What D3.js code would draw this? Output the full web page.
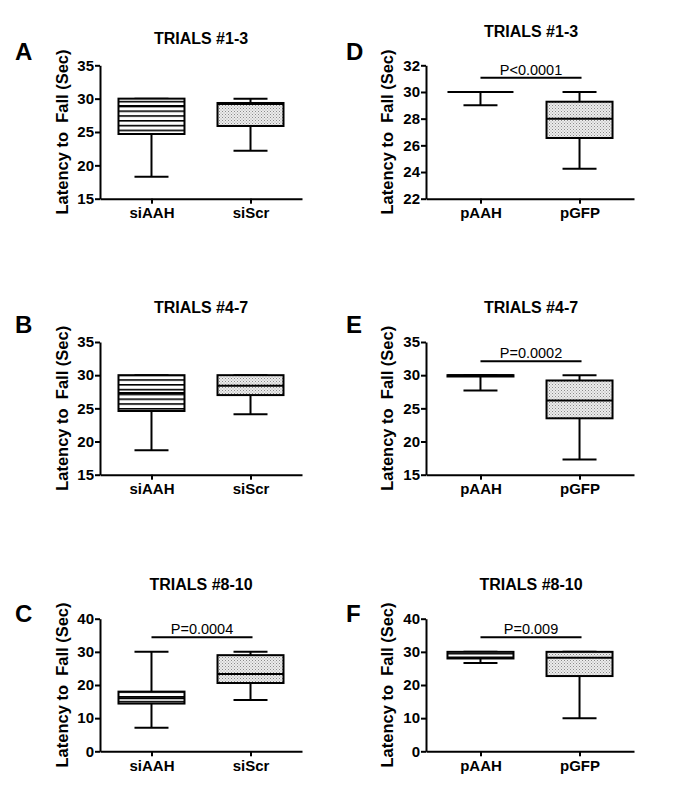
<!DOCTYPE html>
<html>
<head>
<meta charset="utf-8">
<script src="https://cdn.jsdelivr.net/npm/d3@7"></script>
<style>
  body { margin: 0; background: #fff; }
  svg { font-family: "Liberation Sans", Arial, sans-serif; }
  .tick text { font-weight: bold; font-size: 15px; fill: #000; }
  .domain, .tick line { stroke: #000; stroke-width: 2px; }
</style>
</head>
<body>
<div id="chart"></div>
<script>
// panel letters, titles and groups
const letters = ['A', 'B', 'C', 'D', 'E', 'F']
const titles = ['TRIALS #1-3', 'TRIALS #4-7', 'TRIALS #8-10', 'TRIALS #1-3', 'TRIALS #4-7', 'TRIALS #8-10']
const groupsLeft = ['siAAH', 'siScr']
const groupsRight = ['pAAH', 'pGFP']

// box stats per panel: [min, q1, median, q3, max] for each of the two groups
const statsA = [[18.3, 24.7, 28.9, 30, 30], [22.2, 25.9, 29.2, 29.35, 30]]
const statsB = [[18.7, 24.6, 27.3, 30, 30], [24.1, 27.0, 28.4, 30, 30]]
const statsC = [[7.1, 14.4, 16.0, 18.0, 30], [15.5, 20.6, 23.3, 29.0, 30]]
const statsD = [[29, 30, 30, 30, 30], [24.25, 26.55, 28.0, 29.27, 30]]
const statsE = [[27.7, 29.8, 30, 30, 30], [17.3, 23.5, 26.2, 29.2, 30]]
const statsF = [[26.6, 28.0, 28.3, 30, 30], [10.0, 22.7, 28.2, 30, 30]]

// y ticks
const ticksA = [15, 20, 25, 30, 35]
const ticksB = [15, 20, 25, 30, 35]
const ticksC = [0, 10, 20, 30, 40]
const ticksD = [22, 24, 26, 28, 30, 32]
const ticksE = [15, 20, 25, 30, 35]
const ticksF = [0, 10, 20, 30, 40]

// significance labels and their bar heights (in data units)
const pLabels = [null, null, 'P=0.0004', 'P<0.0001', 'P=0.0002', 'P=0.009']
const pLevels = [null, null, 34.4, 31.07, 32.1, 34.4]

const yLabel = 'Latency to  Fall (Sec)'

const W = 685, H = 799
const svg = d3.select('#chart').append('svg')
  .attr('width', W)
  .attr('height', H)

const defs = svg.append('defs')
const stripes = defs.append('pattern')
  .attr('id', 'stripes')
  .attr('patternUnits', 'userSpaceOnUse')
  .attr('width', 6).attr('height', 4.8)
stripes.append('rect').attr('width', 6).attr('height', 4.8).attr('fill', '#fff')
stripes.append('rect').attr('y', 0).attr('width', 6).attr('height', 1.6).attr('fill', '#000')

const dots = defs.append('pattern')
  .attr('id', 'dots')
  .attr('patternUnits', 'userSpaceOnUse')
  .attr('width', 3).attr('height', 3)
dots.append('rect').attr('width', 3).attr('height', 3).attr('fill', '#ececec')
dots.append('rect').attr('x', 0).attr('y', 0).attr('width', 1).attr('height', 1).attr('fill', '#8a8a8a')
dots.append('rect').attr('x', 1.5).attr('y', 1.5).attr('width', 1).attr('height', 1).attr('fill', '#a0a0a0')

const panels = [
  { stats: statsA, ticks: ticksA, col: 0, row: 0, titleY: 44 },
  { stats: statsB, ticks: ticksB, col: 0, row: 1, titleY: 313 },
  { stats: statsC, ticks: ticksC, col: 0, row: 2, titleY: 590 },
  { stats: statsD, ticks: ticksD, col: 1, row: 0, titleY: 37 },
  { stats: statsE, ticks: ticksE, col: 1, row: 1, titleY: 313 },
  { stats: statsF, ticks: ticksF, col: 1, row: 2, titleY: 590 }
]

const rowsY = [[65.3, 198.7], [342, 474.7], [618.7, 751.3]]
const colsX = [
  { x0: 100, x1: 302, pad: 0.52, letterX: 15, labelX: 68, titleX: 201 },
  { x0: 426, x1: 634, pad: 0.55, letterX: 346, labelX: 393, titleX: 531 }
]
const letterY = [60, 333, 622]

panels.forEach((p, i) => {
  const c = colsX[p.col]
  const [yTop, yBot] = rowsY[p.row]
  const groups = p.col === 0 ? groupsLeft : groupsRight
  const g = svg.append('g')

  const x = d3.scalePoint().domain(groups).range([c.x0, c.x1]).padding(c.pad)
  const y = d3.scaleLinear().domain(d3.extent(p.ticks)).range([yBot, yTop])

  g.append('g')
    .attr('transform', `translate(${c.x0},0)`)
    .call(d3.axisLeft(y).tickValues(p.ticks).tickSizeInner(5).tickSizeOuter(0).tickPadding(1))
  g.append('g')
    .attr('transform', `translate(0,${yBot})`)
    .call(d3.axisBottom(x).tickSizeInner(5).tickSizeOuter(0).tickPadding(4))

  const boxW = 66, capW = 34
  p.stats.forEach((s, j) => {
    const cx = x(groups[j])
    const [mn, q1, md, q3, mx] = s
    const line = (x1, y1, x2, y2) => g.append('line')
      .attr('x1', x1).attr('y1', y1).attr('x2', x2).attr('y2', y2)
      .attr('stroke', '#000').attr('stroke-width', 2)
    // whiskers
    line(cx, y(mx), cx, y(q3))
    line(cx, y(q1), cx, y(mn))
    line(cx - capW / 2, y(mx), cx + capW / 2, y(mx))
    line(cx - capW / 2, y(mn), cx + capW / 2, y(mn))
    g.append('rect')
      .attr('x', cx - boxW / 2)
      .attr('y', y(q3))
      .attr('width', boxW)
      .attr('height', y(q1) - y(q3))
      .attr('fill', j === 0 ? 'url(#stripes)' : 'url(#dots)')
      .attr('stroke', '#000')
      .attr('stroke-width', 2)
    line(cx - boxW / 2, y(md), cx + boxW / 2, y(md))
  })

  if (pLabels[i]) {
    const yy = y(pLevels[i])
    const xa = x(groups[0]), xb = x(groups[1]) + 2
    g.append('line')
      .attr('x1', xa).attr('x2', xb).attr('y1', yy).attr('y2', yy)
      .attr('stroke', '#000').attr('stroke-width', 2)
    g.append('text')
      .attr('x', (xa + xb) / 2)
      .attr('y', yy - 3)
      .attr('text-anchor', 'middle')
      .style('font-size', '14.5px')
      .text(pLabels[i])
  }

  g.append('text')
    .attr('x', c.titleX)
    .attr('y', p.titleY)
    .attr('text-anchor', 'middle')
    .style('font-size', '16px')
    .style('font-weight', 'bold')
    .text(titles[i])

  g.append('text')
    .attr('x', c.letterX)
    .attr('y', letterY[p.row])
    .style('font-size', '24px')
    .style('font-weight', 'bold')
    .text(letters[i])

  g.append('text')
    .attr('transform', `translate(${c.labelX},${(yTop + yBot) / 2}) rotate(-90)`)
    .attr('text-anchor', 'middle')
    .style('font-size', '16.5px')
    .style('font-weight', 'bold')
    .style('white-space', 'pre')
    .text(yLabel)
})
</script>
</body>
</html>
